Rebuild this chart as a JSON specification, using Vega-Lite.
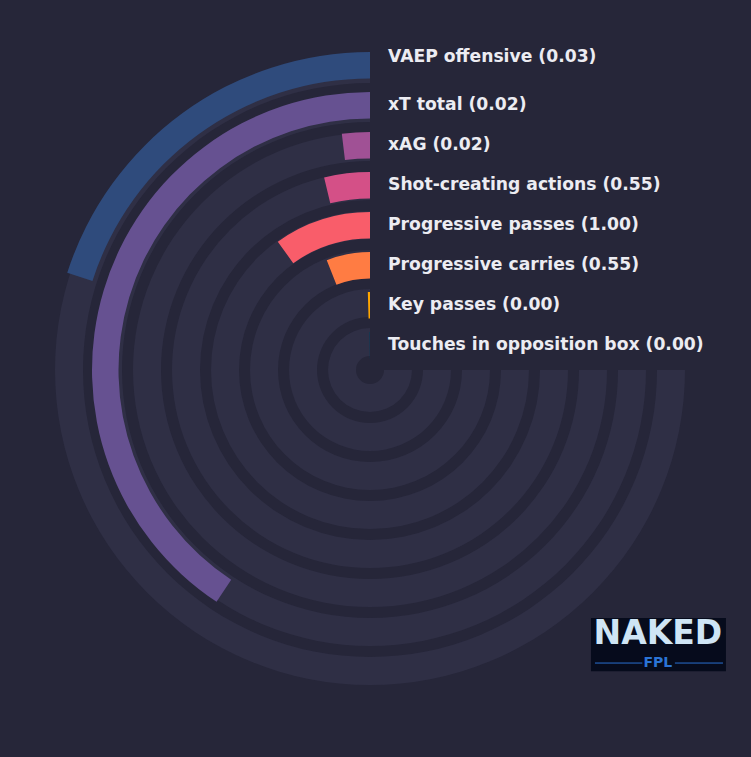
{
  "$schema": "https://vega.github.io/schema/vega-lite/v6.json",
  "description": "Radial bars of attacking metrics",
  "width": 751,
  "height": 757,
  "autosize": {"type": "fit", "contains": "padding"},
  "padding": {"left": 0, "top": 0, "right": 11, "bottom": 17},
  "background": "#262639",
  "config": {"view": {"stroke": null}},
  "datasets": {
    "metrics": [
      {"ring": 8, "metric": "VAEP offensive", "value": 0.03, "deg": 72.2, "label": "VAEP offensive (0.03)"},
      {"ring": 7, "metric": "xT total", "value": 0.02, "deg": 146.5, "label": "xT total (0.02)"},
      {"ring": 6, "metric": "xAG", "value": 0.02, "deg": 6.8, "label": "xAG (0.02)"},
      {"ring": 5, "metric": "Shot-creating actions", "value": 0.55, "deg": 13.4, "label": "Shot-creating actions (0.55)"},
      {"ring": 4, "metric": "Progressive passes", "value": 1.0, "deg": 35.7, "label": "Progressive passes (1.00)"},
      {"ring": 3, "metric": "Progressive carries", "value": 0.55, "deg": 21.5, "label": "Progressive carries (0.55)"},
      {"ring": 2, "metric": "Key passes", "value": 0.0, "deg": 1.6, "label": "Key passes (0.00)"},
      {"ring": 1, "metric": "Touches in opposition box", "value": 0.0, "deg": 0.8, "label": "Touches in opposition box (0.00)"}
    ]
  },
  "layer": [
    {
      "data": {"name": "metrics"},
      "mark": {"type": "arc", "color": "#2f2f45", "radius2Offset": -28},
      "encoding": {
        "theta": {"datum": 270, "type": "quantitative", "scale": {"domain": [0, 360], "range": [6.283185307, 0]}},
        "theta2": {"datum": 0},
        "radius": {"field": "ring", "type": "quantitative", "scale": {"type": "linear", "domain": [1, 8], "range": [42, 315], "zero": false}},
        "radius2": {"field": "ring"}
      }
    },
    {
      "data": {"name": "metrics"},
      "mark": {"type": "arc", "radius2Offset": -26.5},
      "encoding": {
        "theta": {"field": "deg", "type": "quantitative", "stack": null, "scale": {"domain": [0, 360], "range": [6.283185307, 0]}},
        "theta2": {"datum": 0},
        "radius": {"field": "ring", "type": "quantitative", "scale": {"type": "linear", "domain": [1, 8], "range": [38, 318], "zero": false}},
        "radius2": {"field": "ring"},
        "color": {
          "field": "metric",
          "type": "nominal",
          "legend": null,
          "scale": {
            "domain": ["VAEP offensive", "xT total", "xAG", "Shot-creating actions", "Progressive passes", "Progressive carries", "Key passes", "Touches in opposition box"],
            "range": ["#2f4b7c", "#665191", "#a05195", "#d45087", "#f95d6a", "#ff7c43", "#ffa600", "#003f5c"]
          }
        }
      }
    },
    {
      "data": {"name": "metrics"},
      "transform": [{"filter": "datum.ring < 8"}],
      "mark": {"type": "text", "align": "left", "baseline": "middle", "dx": 18, "font": "DejaVu Sans", "fontWeight": "bold", "fontSize": 17.2, "color": "#ececf2"},
      "encoding": {
        "theta": {"value": 0},
        "radius": {"field": "ring", "type": "quantitative", "scale": {"type": "linear", "domain": [1, 7], "range": [25.5, 265.5], "zero": false}},
        "text": {"field": "label"}
      }
    },
    {
      "data": {"name": "metrics"},
      "transform": [{"filter": "datum.ring == 8"}],
      "mark": {"type": "text", "align": "left", "baseline": "middle", "dx": 18, "dy": -8, "font": "DejaVu Sans", "fontWeight": "bold", "fontSize": 17.2, "color": "#ececf2"},
      "encoding": {
        "theta": {"value": 0},
        "radius": {"field": "ring", "type": "quantitative", "scale": {"type": "linear", "domain": [1, 7], "range": [25.5, 265.5], "zero": false}},
        "text": {"field": "label"}
      }
    },
    {
      "data": {"values": [{"logo": "NAKED FPL"}]},
      "mark": {"type": "rect", "color": "#060b1c"},
      "encoding": {
        "x": {"datum": 0.7986, "type": "quantitative", "axis": null, "scale": {"domain": [0, 1], "nice": false, "zero": false}},
        "x2": {"datum": 0.981},
        "y": {"datum": 0.835, "type": "quantitative", "axis": null, "scale": {"domain": [0, 1], "nice": false, "zero": false, "reverse": true}},
        "y2": {"datum": 0.907}
      }
    },
    {
      "data": {"values": [{"logo": "NAKED"}]},
      "mark": {"type": "text", "align": "center", "baseline": "middle", "font": "DejaVu Sans", "fontWeight": "bold", "fontSize": 33, "color": "#cfe5f5"},
      "encoding": {
        "x": {"datum": 0.889, "type": "quantitative"},
        "y": {"datum": 0.857, "type": "quantitative"},
        "text": {"field": "logo"}
      }
    },
    {
      "data": {"values": [{"from": 0.804, "to": 0.868}, {"from": 0.912, "to": 0.977}]},
      "mark": {"type": "rule", "color": "#2a6fd0", "strokeWidth": 1},
      "encoding": {
        "x": {"field": "from", "type": "quantitative"},
        "x2": {"field": "to"},
        "y": {"datum": 0.896, "type": "quantitative"}
      }
    },
    {
      "data": {"values": [{"logo": "FPL"}]},
      "mark": {"type": "text", "align": "center", "baseline": "middle", "font": "DejaVu Sans", "fontWeight": "bold", "fontSize": 14, "color": "#2b74d6"},
      "encoding": {
        "x": {"datum": 0.889, "type": "quantitative"},
        "y": {"datum": 0.896, "type": "quantitative"},
        "text": {"field": "logo"}
      }
    }
  ],
  "resolve": {"scale": {"radius": "independent"}}
}
